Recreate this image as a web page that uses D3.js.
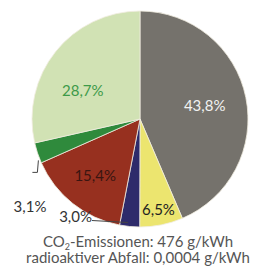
<!DOCTYPE html>
<html>
<head>
<meta charset="utf-8">
<script src="https://cdn.jsdelivr.net/npm/d3@7"></script>
<style>
  body { margin: 0; background: #fff; }
  svg { display: block; }
</style>
</head>
<body>
<script>
// Energiemix (Anteile in %), im Uhrzeigersinn ab 12 Uhr
var labels = ['43,8%', '6,5%', '3,0%', '15,4%', '3,1%', '28,7%'];
var values = [43.8, 6.5, 3.0, 15.4, 3.1, 28.7];
var captionCO2 = ['CO', '2', '-Emissionen: 476 g/kWh'];
var captionWaste = 'radioaktiver Abfall: 0,0004 g/kWh';

var colors = ['#75726c', '#ece56f', '#2e2b6b', '#97301f', '#2f8a3c', '#d1e2b4'];
var textColors = ['#f2f2f2', '#222', '#333', '#3a1511', '#333', '#3d9a49'];
// label radius + angle nudge for inside labels (null = outside label)
var labelLayout = [[66, 0], [93, 0], null, [72, 0], null, [64, -12]];

var width = 255, height = 268;
var cx = 140, cy = 119, radius = 108;

var svg = d3.select('body').append('svg')
    .attr('width', width)
    .attr('height', height);

var g = svg.append('g').attr('transform', 'translate(' + cx + ',' + cy + ')');

var pie = d3.pie().sort(null).value(function (d) { return d; });
var arcs = pie(values);

var arc = d3.arc().innerRadius(0).outerRadius(radius);

g.selectAll('path.slice')
    .data(arcs)
    .enter()
    .append('path')
    .attr('class', 'slice')
    .attr('d', arc)
    .attr('fill', function (d, i) { return colors[i]; })
    .attr('stroke', '#f0ece0')
    .attr('stroke-width', 0.8);

var font = 'Lato, "DejaVu Sans", sans-serif';

// inside labels
arcs.forEach(function (d, i) {
    var lay = labelLayout[i];
    if (!lay) return;
    var a = (d.startAngle + d.endAngle) / 2 + lay[1] * Math.PI / 180;
    g.append('text')
        .attr('x', Math.sin(a) * lay[0])
        .attr('y', -Math.cos(a) * lay[0])
        .attr('dy', '0.35em')
        .attr('text-anchor', 'middle')
        .attr('font-family', font)
        .attr('font-size', 15)
        .attr('fill', textColors[i])
        .text(labels[i]);
});

// outside label 3,1% with small bracket
var a31 = (arcs[4].startAngle + arcs[4].endAngle) / 2;
var p31 = [Math.sin(a31) * (radius - 2), -Math.cos(a31) * (radius - 2)];
g.append('path')
    .attr('d', d3.line()([[p31[0] - 1, p31[1] + 8], [p31[0] - 2, p31[1] + 20], [p31[0] - 7, p31[1] + 20]]))
    .attr('fill', 'none')
    .attr('stroke', '#444')
    .attr('stroke-width', 1);
g.append('text')
    .attr('x', p31[0] + 7)
    .attr('y', p31[1] + 60)
    .attr('text-anchor', 'end')
    .attr('font-family', font)
    .attr('font-size', 15)
    .attr('fill', textColors[4])
    .text(labels[4]);

// outside label 3,0% with leader line
var a30 = (arcs[2].startAngle + arcs[2].endAngle) / 2;
var p30 = [Math.sin(a30) * (radius - 4), -Math.cos(a30) * (radius - 4)];
g.append('path')
    .attr('d', d3.line()([[p30[0] - 2, p30[1]], [p30[0] - 38, p30[1] - 2]]))
    .attr('fill', 'none')
    .attr('stroke', '#444')
    .attr('stroke-width', 1);
g.append('text')
    .attr('x', p30[0] - 38)
    .attr('y', p30[1] - 1)
    .attr('text-anchor', 'end')
    .attr('font-family', font)
    .attr('font-size', 15)
    .attr('fill', textColors[2])
    .text(labels[2]);

// caption
var cap1 = svg.append('text')
    .attr('x', 138)
    .attr('y', 247)
    .attr('text-anchor', 'middle')
    .attr('font-family', font)
    .attr('font-size', 15)
    .attr('fill', '#555');
cap1.append('tspan').text(captionCO2[0]);
cap1.append('tspan').attr('font-size', 9).attr('dy', 3).text(captionCO2[1]);
cap1.append('tspan').attr('dy', -3).text(captionCO2[2]);

svg.append('text')
    .attr('x', 138)
    .attr('y', 263)
    .attr('text-anchor', 'middle')
    .attr('font-family', font)
    .attr('font-size', 15)
    .attr('fill', '#555')
    .text(captionWaste);
</script>
</body>
</html>
